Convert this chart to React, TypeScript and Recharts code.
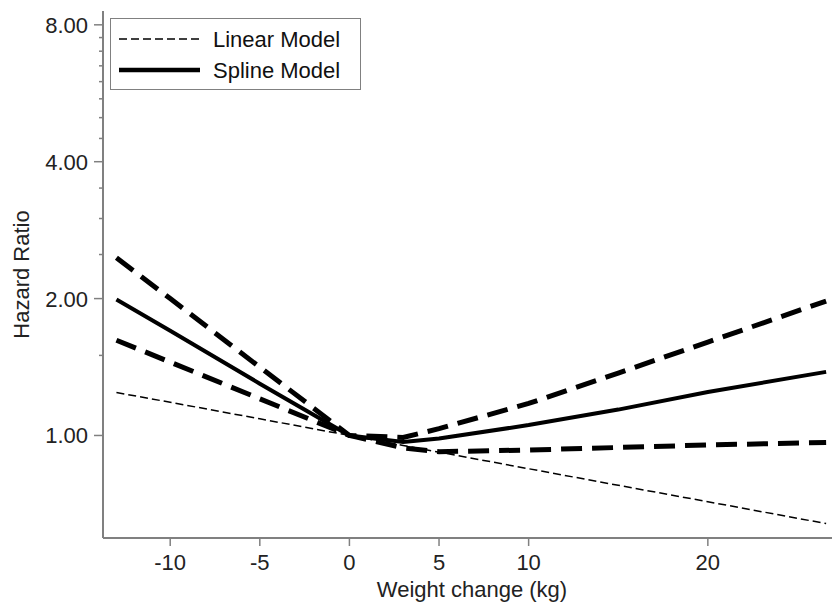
import React from "react";
import { LineChart, Line, XAxis, YAxis, Label } from "recharts";

// Weight change (kg) sample points
const weightChange = [-13, -10, -5, 0, 3, 5, 10, 15, 20, 26.6];
// Hazard ratios
const linearHR = [1.243, 1.183, 1.088, 1.0, 0.951, 0.919, 0.845, 0.777, 0.715, 0.64];
const splineHR = [1.99, 1.7, 1.3, 1.0, 0.968, 0.985, 1.054, 1.14, 1.246, 1.38];
const upperHR = [2.46, 2.0, 1.413, 1.0, 0.99, 1.035, 1.176, 1.372, 1.605, 1.975];
const lowerHR = [1.62, 1.45, 1.204, 1.0, 0.939, 0.921, 0.929, 0.941, 0.953, 0.965];

const xTicks = [-10, -5, 0, 5, 10, 20];
const yTicks = [1, 1.5, 2, 2.5, 3, 3.5, 4, 4.5, 5, 5.5, 6, 6.5, 7, 7.5, 8];
const yLabelled = [1, 2, 4, 8];

const data = weightChange.map((x, i) => ({
  x,
  linear: linearHR[i],
  spline: splineHR[i],
  upper: upperHR[i],
  lower: lowerHR[i],
}));

const AXIS = "#808080";
const FONT = "'Liberation Sans', Arial, Helvetica, sans-serif";
const FS = 22;

function YTick(props: any) {
  const { x, y, payload } = props;
  const major = yLabelled.includes(payload.value);
  return (
    <g>
      <line x1={x - (major ? 9 : 4)} x2={x} y1={y} y2={y} stroke={AXIS} strokeWidth={1.5} />
      {major && (
        <text x={x - 15} y={y} dy="0.36em" textAnchor="end" fontSize={FS} fill="#222">
          {payload.value.toFixed(2)}
        </text>
      )}
    </g>
  );
}

export default function App() {
  return (
    <div
      style={{
        position: "absolute",
        left: 0,
        top: 0,
        width: 832,
        height: 602,
        overflow: "hidden",
        background: "#fff",
        fontFamily: FONT,
      }}
    >
      <LineChart width={841} height={602} data={data} margin={{ top: 11, right: 0, bottom: 0, left: 0 }}>
        <XAxis
          dataKey="x"
          type="number"
          domain={[-13.75, 27.43]}
          allowDataOverflow
          ticks={xTicks}
          height={64}
          tickSize={8}
          tickMargin={8}
          stroke={AXIS}
          axisLine={{ stroke: AXIS, strokeWidth: 2 }}
          tickLine={{ stroke: AXIS, strokeWidth: 1.5 }}
          tick={{ fontSize: FS, fill: "#222" }}
        >
          <Label value="Weight change (kg)" position="insideBottom" offset={5} fontSize={FS} fill="#222" />
        </XAxis>
        <YAxis
          type="number"
          scale="log"
          domain={[0.595, 8.58]}
          allowDataOverflow
          ticks={yTicks}
          interval={0}
          width={103}
          tickSize={0}
          tickMargin={0}
          tickLine={false}
          axisLine={{ stroke: AXIS, strokeWidth: 2 }}
          tick={<YTick />}
        >
          <Label
            value="Hazard Ratio"
            angle={-90}
            position="insideLeft"
            offset={21}
            fontSize={FS}
            fill="#222"
            style={{ textAnchor: "middle" }}
          />
        </YAxis>
        <Line dataKey="linear" type="linear" stroke="#000" strokeWidth={1.5} strokeDasharray="8 4" dot={false} isAnimationActive={false} />
        <Line dataKey="upper" type="linear" stroke="#000" strokeWidth={5} strokeDasharray="21 10" dot={false} isAnimationActive={false} />
        <Line dataKey="lower" type="linear" stroke="#000" strokeWidth={5} strokeDasharray="21 10" dot={false} isAnimationActive={false} />
        <Line dataKey="spline" type="linear" stroke="#000" strokeWidth={4} dot={false} isAnimationActive={false} />
      </LineChart>
      <div
        style={{
          position: "absolute",
          left: 110,
          top: 18,
          width: 251,
          height: 72,
          boxSizing: "border-box",
          border: `1.5px solid ${AXIS}`,
          background: "#fff",
        }}
      >
        <svg width={251} height={72} style={{ position: "absolute", left: -1.5, top: -1.5 }}>
          <line x1={9} x2={90} y1={21} y2={21} stroke="#000" strokeWidth={1.5} strokeDasharray="8 4" />
          <line x1={9} x2={90} y1={52} y2={52} stroke="#000" strokeWidth={4.5} />
          <text x={103} y={21} dy="0.36em" fontSize={FS} fill="#111">Linear Model</text>
          <text x={103} y={52} dy="0.36em" fontSize={FS} fill="#111">Spline Model</text>
        </svg>
      </div>
    </div>
  );
}
